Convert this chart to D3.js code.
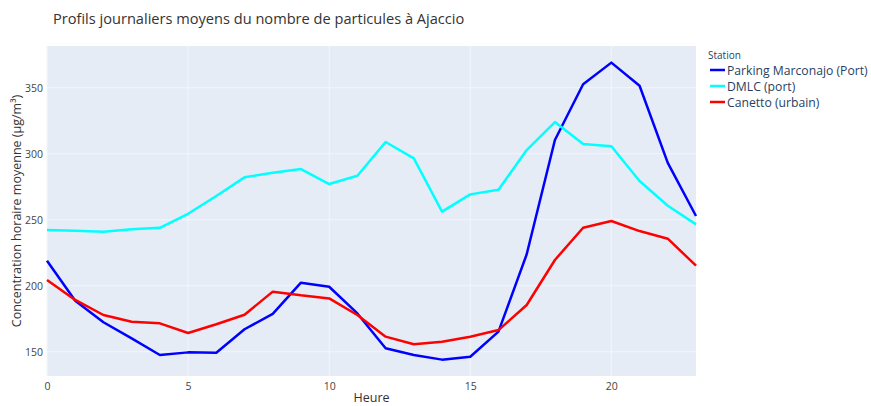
<!DOCTYPE html>
<html><head><meta charset="utf-8">
<script src="https://cdn.jsdelivr.net/npm/d3@7"></script>
<style>body{margin:0;background:#fff;} text{font-family:"Open Sans",sans-serif;}</style>
</head><body><svg id="c" width="871" height="406"></svg>
<script>
const hours = d3.range(0,24);
const seriesNames = ["Parking Marconajo (Port)", "DMLC (port)", "Canetto (urbain)"];
const seriesColors = ["#0000ff", "#00ffff", "#ff0000"];
const marconajo = [218.9,188.6,172.3,160.1,147.5,149.5,149.2,167,178.6,202.3,199.2,179,152.6,147.5,144,146.2,165.2,223.8,310.4,352.6,369,351.5,293.1,252.8];
const dmlc = [242.2,241.7,240.9,242.7,243.9,254.5,268,282.1,285.6,288.4,277,283.3,308.9,296.5,256.1,269.2,272.7,302.8,324,307.3,305.6,279.3,260.6,246.5];
const canetto = [204.3,189.2,177.8,172.7,171.5,164.2,170.8,178,195.5,192.7,190.4,177.8,161.4,155.6,157.6,161.4,166.4,185.4,219.5,243.9,249,241.4,235.6,215.2];
const xTicks = [0,5,10,15,20];
const yTicks = [150,200,250,300,350];
const allSeries = [marconajo, dmlc, canetto];

const svg = d3.select("#c");
const m = {l:47, r:696, t:46, b:376};
const x = d3.scaleLinear().domain([0,23]).range([m.l, m.r]);
const y = d3.scaleLinear().domain([131.6,381.6]).range([m.b, m.t]);
const fc = "#2a3f5f";

svg.append("rect").attr("x",m.l).attr("y",m.t).attr("width",m.r-m.l).attr("height",m.b-m.t).attr("fill","#e5ecf6");

// grid
svg.append("g").selectAll("line").data(xTicks).join("line")
  .attr("x1",d=>x(d)).attr("x2",d=>x(d)).attr("y1",m.t).attr("y2",m.b)
  .attr("stroke","#f3f6fb").attr("stroke-width",1);
svg.append("g").selectAll("line").data(yTicks).join("line")
  .attr("x1",m.l).attr("x2",m.r).attr("y1",d=>y(d)).attr("y2",d=>y(d))
  .attr("stroke","#f3f6fb").attr("stroke-width",1);

// axes
const xa = svg.append("g").attr("transform",`translate(0,${m.b})`)
  .call(d3.axisBottom(x).tickValues(xTicks).tickSize(0).tickPadding(7));
const ya = svg.append("g").attr("transform",`translate(${m.l},0)`)
  .call(d3.axisLeft(y).tickValues(yTicks).tickSize(0).tickPadding(4));
[xa,ya].forEach(a=>{a.select(".domain").remove(); a.selectAll("text").attr("font-size",10.5).attr("fill","#444").attr("font-family","Open Sans");});

// lines
const line = d3.line().x((d,i)=>x(hours[i])).y(d=>y(d));
allSeries.forEach((s,k)=>{
  svg.append("path").datum(s).attr("d",line).attr("fill","none")
    .attr("stroke",seriesColors[k]).attr("stroke-width",2.5).attr("stroke-linejoin","round");
});

// title
svg.append("text").attr("x",53).attr("y",24).attr("font-size",14.6).attr("fill","#333").text("Profils journaliers moyens du nombre de particules à Ajaccio");
// axis titles
svg.append("text").attr("x",(m.l+m.r)/2).attr("y",402).attr("text-anchor","middle").attr("font-size",12.5).attr("fill","#333").text("Heure");
svg.append("text").attr("transform",`translate(21,${(m.t+m.b)/2}) rotate(-90)`).attr("text-anchor","middle").attr("font-size",12.5).attr("fill","#333").text("Concentration horaire moyenne (µg/m³)");

// legend
const lg = svg.append("g").attr("transform","translate(708,0)");
lg.append("text").attr("x",0).attr("y",59).attr("font-size",10).attr("fill",fc).text("Station");
seriesNames.forEach((n,i)=>{
  const yy = 70 + i*16;
  lg.append("line").attr("x1",2).attr("x2",17).attr("y1",yy).attr("y2",yy).attr("stroke",seriesColors[i]).attr("stroke-width",2.5);
  lg.append("text").attr("x",19).attr("y",yy+4.5).attr("font-size",12.2).attr("fill",fc).text(n);
});
</script></body></html>
